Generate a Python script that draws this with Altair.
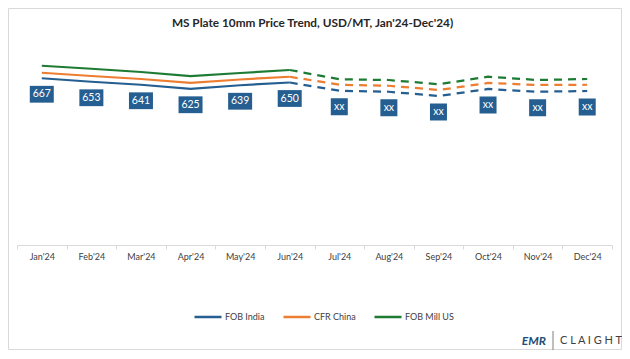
import altair as alt
import pandas as pd

months = ["Jan'24", "Feb'24", "Mar'24", "Apr'24", "May'24", "Jun'24",
          "Jul'24", "Aug'24", "Sep'24", "Oct'24", "Nov'24", "Dec'24"]
fob_india = [667, 653, 641, 625, 639, 650, 617, 613, 596, 624, 613, 616]
cfr_china = [689, 676, 664, 649, 662, 673, 641, 637, 620, 648, 640, 641]
fob_mill_us = [717, 705, 692, 676, 688, 700, 663, 660, 643, 673, 660, 664]
labels = ["667", "653", "641", "625", "639", "650", "xx", "xx", "xx", "xx", "xx", "xx"]
n_actual = 6
title_text = "MS Plate 10mm Price Trend, USD/MT, Jan'24-Dec'24)"

series_names = ["FOB India", "CFR China", "FOB Mill US"]
series_colors = ["#255E91", "#ED7D31", "#1E7B34"]
series_values = [fob_india, cfr_china, fob_mill_us]

rows = []
for name, vals in zip(series_names, series_values):
    for i, (m, v) in enumerate(zip(months, vals)):
        if i < n_actual:
            rows.append({"series": name, "month": m, "value": v, "seg": "actual"})
        if i >= n_actual - 1:
            rows.append({"series": name, "month": m, "value": v, "seg": "forecast"})
df = pd.DataFrame(rows)

lab = pd.DataFrame({"month": months, "value": fob_india, "label": labels,
                    "kind": ["actual"] * n_actual + ["forecast"] * (len(months) - n_actual)})

W, H = 595, 200
FONT = "Lato"

x = alt.X("month:N", sort=months, title=None,
          scale=alt.Scale(paddingInner=0, paddingOuter=0),
          axis=alt.Axis(labelAngle=0, labelFont=FONT, labelFontSize=9, labelColor="#404040",
                        domainColor="#d9d9d9", tickColor="#d9d9d9", tickBand="extent",
                        tickSize=4, labelPadding=3))
y = alt.Y("value:Q", scale=alt.Scale(domain=[0, 800]), axis=None)
color = alt.Color("series:N", sort=series_names,
                  scale=alt.Scale(domain=series_names, range=series_colors),
                  legend=alt.Legend(title=None, orient="none", direction="horizontal",
                                    legendX=176, legendY=257, symbolType="stroke",
                                    symbolSize=729, symbolStrokeWidth=2.5,
                                    labelFont=FONT, labelFontSize=9, labelColor="#404040",
                                    columnPadding=13, labelOffset=2))

actual_lines = alt.Chart(df).transform_filter(alt.datum.seg == "actual").mark_line(
    strokeWidth=2.25).encode(x=x, y=y, color=color, detail="series:N")
forecast_lines = alt.Chart(df).transform_filter(alt.datum.seg == "forecast").mark_line(
    strokeWidth=2.25, strokeDash=[8, 6]).encode(x=x, y=y, color=color, detail="series:N")

box_a = alt.Chart(lab).transform_filter(alt.datum.kind == "actual").mark_point(
    shape="M-1,-0.7L1,-0.7L1,0.7L-1,0.7Z", size=576, filled=True, opacity=1,
    color="#255E91", yOffset=16).encode(x=x, y=y)
box_f = alt.Chart(lab).transform_filter(alt.datum.kind == "forecast").mark_point(
    shape="M-1,-1L1,-1L1,1L-1,1Z", size=289, filled=True, opacity=1,
    color="#255E91", yOffset=16).encode(x=x, y=y)
box_text = alt.Chart(lab).mark_text(color="white", font=FONT, fontSize=10.5, dy=16,
                                    baseline="middle").encode(x=x, y=y, text="label:N")

frame = alt.Chart(pd.DataFrame({"k": [0]})).mark_rect(
    fill=None, stroke="#d9d9d9", strokeWidth=1).encode(
    x=alt.value(-8.5), x2=alt.value(604.5), y=alt.value(-36.5), y2=alt.value(304.5))

title = alt.Chart(pd.DataFrame({"t": [title_text]})).mark_text(
    font=FONT, fontSize=11.8, fontWeight="bold", color="#262626",
    align="center", baseline="middle").encode(
    x=alt.value(W / 2 - 2), y=alt.value(-22), text="t:N")

logo_emr = alt.Chart(pd.DataFrame({"t": ["EMR"]})).mark_text(
    font=FONT, fontSize=12, fontWeight="bold", fontStyle="italic", color="#1F4E79",
    align="right", baseline="middle").encode(
    x=alt.value(529), y=alt.value(296), text="t:N")
logo_sep = alt.Chart(pd.DataFrame({"k": [0]})).mark_rule(color="#7f7f7f", strokeWidth=1).encode(
    x=alt.value(536), y=alt.value(286), y2=alt.value(306))
logo_cl = alt.Chart(pd.DataFrame({"t": ["C L A I G H T"]})).mark_text(
    font=FONT, fontSize=11, color="#404040", align="left", baseline="middle").encode(
    x=alt.value(543), y=alt.value(296), text="t:N")

chart = alt.layer(frame, title, actual_lines, forecast_lines, box_a, box_f, box_text,
                  logo_emr, logo_sep, logo_cl).properties(
    width=W, height=H,
    padding={"left": 9, "top": 37, "right": 10, "bottom": 105},
    autosize=alt.AutoSizeParams(type="none"),
).configure_view(stroke=None)

chart.save("out.html", embed_options={"renderer": "svg", "actions": False})
